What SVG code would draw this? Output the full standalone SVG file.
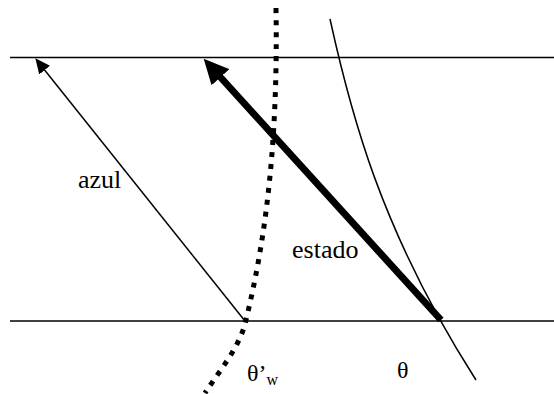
<svg xmlns="http://www.w3.org/2000/svg" width="554" height="394" viewBox="0 0 554 394">
<style>
.ln{fill:none;stroke:#000;stroke-width:1.5}
.dot{fill:none;stroke:#000;stroke-width:5;stroke-dasharray:5 7}
.thick{fill:none;stroke:#000;stroke-width:7}
.lbl{fill:#000;font-family:"Liberation Serif","Times New Roman",serif}
</style>
<defs>
<marker id="ahThin" markerUnits="userSpaceOnUse" viewBox="0 0 15 14" markerWidth="15" markerHeight="14" refX="0.5" refY="7" orient="auto"><path d="M0,0 L15,7 L0,14 z" fill="#000"/></marker>
<marker id="ahThick" markerUnits="userSpaceOnUse" viewBox="0 0 25 24" markerWidth="25" markerHeight="24" refX="1" refY="12" orient="auto"><path d="M0,0 L25,12 L0,24 z" fill="#000"/></marker>
</defs>
<g id="boundaries">
<line class="ln" x1="10" y1="57.5" x2="554" y2="57.5"/>
<line class="ln" x1="10" y1="321" x2="554" y2="321"/>
</g>
<g id="curves">
<path id="dotted-curve" class="dot" d="M276 8 C278 130 268 230 246 320 C240 347 220 370 205 393"/>
<path id="theta-curve" class="ln" d="M330 19 C350 110 380 230 476 380"/>
</g>
<g id="connectors">
<line id="azul-arrow" class="ln" x1="245" y1="321" x2="44.4" y2="69.7" marker-end="url(#ahThin)"/>
<line id="estado-arrow" class="thick" x1="441" y1="320" x2="219.8" y2="76.5" marker-end="url(#ahThick)"/>
</g>
<g id="labels">
<text class="lbl" x="78" y="188" font-size="26">azul</text>
<text class="lbl" x="292" y="258" font-size="26">estado</text>
<text class="lbl" x="397" y="378" font-size="24">θ</text>
<text class="lbl" x="247" y="381" font-size="24">θ’<tspan font-size="16" dy="4">w</tspan></text>
</g>
</svg>
